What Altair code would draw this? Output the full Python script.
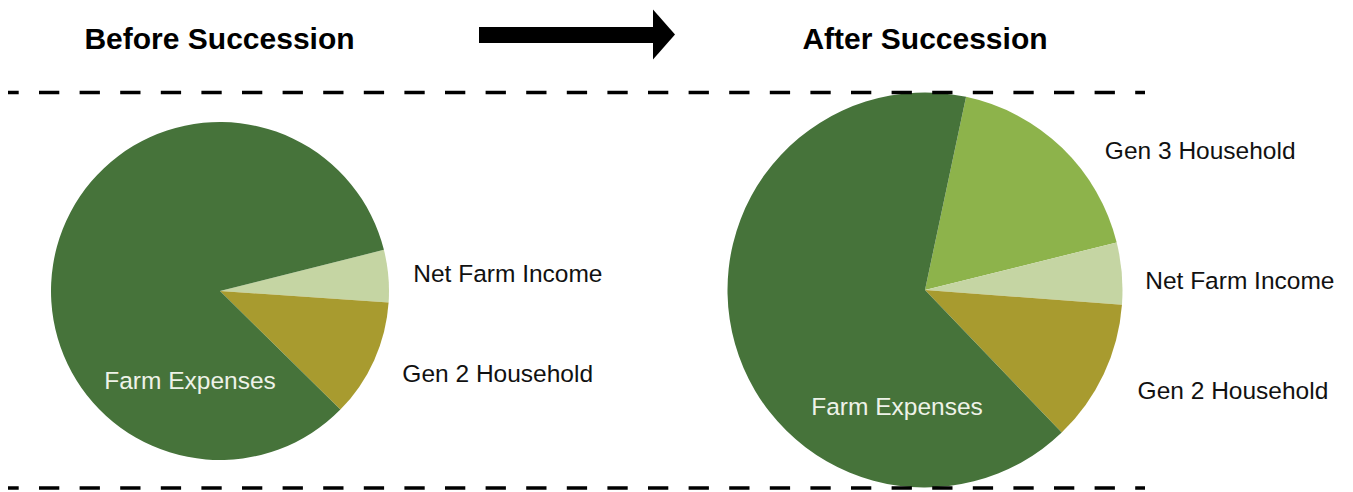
import math
import altair as alt
import pandas as pd

# ---- data ----
left_parts = ["Net Farm Income", "Gen 2 Household", "Farm Expenses"]
left_values = [5.0, 11.3, 83.7]
right_parts = ["Gen 3 Household", "Net Farm Income", "Gen 2 Household", "Farm Expenses"]
right_values = [17.8, 5.05, 11.65, 65.5]
titles = ["Before Succession", "After Succession"]
part_domain = ["Farm Expenses", "Gen 2 Household", "Net Farm Income", "Gen 3 Household"]
part_colors = ["#46733a", "#a89b2f", "#c5d5a3", "#8db34b"]

left_df = pd.DataFrame({"part": left_parts, "value": left_values, "idx": list(range(len(left_parts)))})
right_df = pd.DataFrame({"part": right_parts, "value": right_values, "idx": list(range(len(right_parts)))})
dummy = pd.DataFrame({"k": [0]})

FONT = "Liberation Sans"
W, H = 1337, 484
LABEL_SIZE = 24.5
DARK = "#111111"
LIGHT = "#eef2e8"

color = alt.Color("part:N", scale=alt.Scale(domain=part_domain, range=part_colors), legend=None)


def pie(df, cx, cy, r, start_deg, labels):
    start = math.radians(start_deg)
    theta = alt.Theta("value:Q", stack=True,
                      scale=alt.Scale(domain=[0, 100], range=[start, start + 2 * math.pi]))
    base = alt.Chart(df).encode(theta=theta, order=alt.Order("idx:Q"),
                                x=alt.value(cx), y=alt.value(cy))
    layers = [base.mark_arc(radius=r).encode(color=color)]
    for part, rad, dx, dy, align, col in labels:
        t = (base.transform_calculate(lab=f"datum.part === '{part}' ? datum.part : ''")
             .mark_text(radius=rad, dx=dx, dy=dy, align=align, baseline="middle",
                        font=FONT, fontSize=LABEL_SIZE, color=col)
             .encode(text="lab:N", detail="part:N"))
        layers.append(t)
    return alt.layer(*layers)


left_pie = pie(left_df, 212, 283, 169, 75.9, [
    ("Net Farm Income", 194, 0, 1.5, "left", DARK),
    ("Gen 2 Household", 200, 0, 1.5, "left", DARK),
    ("Farm Expenses", 0, -30, 90.5, "center", LIGHT),
])
right_pie = pie(right_df, 917, 282, 197.5, 12.0, [
    ("Gen 3 Household", 194, 45, 1.5, "left", DARK),
    ("Net Farm Income", 221, 0, 10.5, "left", DARK),
    ("Gen 2 Household", 235, 0, 1.5, "left", DARK),
    ("Farm Expenses", 0, -28, 117.5, "center", LIGHT),
])

title_l = alt.Chart(dummy).mark_text(font=FONT, fontSize=30, fontWeight="bold", align="center",
                                     baseline="alphabetic", color="black").encode(
    text=alt.value(titles[0]), x=alt.value(211.5), y=alt.value(41))
title_r = alt.Chart(dummy).mark_text(font=FONT, fontSize=30, fontWeight="bold", align="center",
                                     baseline="alphabetic", color="black").encode(
    text=alt.value(titles[1]), x=alt.value(917), y=alt.value(41))

dash_kw = dict(strokeDash=[20.3, 20.3], strokeDashOffset=9.6, strokeWidth=3.5, color="black")
top_line = alt.Chart(dummy).mark_rule(**dash_kw).encode(
    x=alt.value(0), x2=alt.value(1137), y=alt.value(84.5))
bottom_line = alt.Chart(dummy).mark_rule(**dash_kw).encode(
    x=alt.value(0), x2=alt.value(1137), y=alt.value(480))

arrow_shaft = alt.Chart(dummy).mark_rule(strokeWidth=16, color="black", strokeCap="butt").encode(
    x=alt.value(471), x2=alt.value(647), y=alt.value(27))
arrow_head = alt.Chart(dummy).mark_point(shape="M-0.44,-1L0.44,0L-0.44,1Z", size=2500, filled=True,
                                         color="black", opacity=1, strokeWidth=0).encode(
    x=alt.value(656), y=alt.value(26.5))

chart = (
    alt.layer(left_pie, right_pie, title_l, title_r, top_line, bottom_line, arrow_shaft, arrow_head)
    .resolve_scale(theta="independent")
    .properties(width=W, height=H, padding=0, background="white",
                autosize=alt.AutoSizeParams(type="none"))
    .configure_view(stroke=None)
)

chart.save("out.html", embed_options={"renderer": "svg", "actions": False})
